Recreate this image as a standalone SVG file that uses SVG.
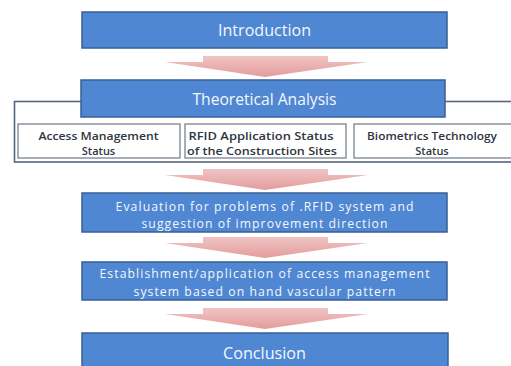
<svg xmlns="http://www.w3.org/2000/svg" width="511" height="366" viewBox="0 0 511 366">
  <defs>
    <linearGradient id="arrowFill" x1="0" y1="0" x2="0" y2="1">
      <stop offset="0" stop-color="#f0c4c4"/>
      <stop offset="1" stop-color="#e39c9c"/>
    </linearGradient>
    <!-- Block arrow pointing down, centered at x=0, top at y=0 -->
    <path id="downArrow" d="M-62,0 H63 V6 H103 L0,21 L-100,6 H-62 Z"/>
  </defs>
  <style>
    .step { fill: #4f87d3; stroke: #3a5f94; stroke-width: 1.5; }
    .stepText { font-family: "Open Sans", "Noto Sans", "Liberation Sans", sans-serif; fill: #f4f7fc; text-anchor: middle; }
    .big { font-size: 16px; }
    .mid { font-size: 12.2px; }
    .frame { fill: none; stroke: #56667c; stroke-width: 1.6; }
    .sub { fill: #ffffff; stroke: #6b7888; stroke-width: 1.2; }
    .subText { font-family: "Open Sans", "Noto Sans", "Liberation Sans", sans-serif; font-size: 11px; font-weight: 600; fill: #2f3640; text-anchor: middle; }
    .flow { fill: url(#arrowFill); }
  </style>

  <rect width="511" height="366" fill="#ffffff"/>

  <!-- Frame around the analysis sub-topics -->
  <g id="analysis-frame">
    <rect class="frame" x="14.5" y="101.5" width="510" height="60.5"/>
  </g>

  <!-- Flow arrows between steps -->
  <g id="connectors">
    <use href="#downArrow" class="flow" x="265" y="56"/>
    <use href="#downArrow" class="flow" x="265" y="169"/>
    <use href="#downArrow" class="flow" x="265" y="237"/>
    <use href="#downArrow" class="flow" x="265" y="308"/>
  </g>

  <g id="introduction">
    <rect class="step" x="82" y="12" width="365" height="36"/>
    <text class="stepText big" x="264.5" y="36" textLength="93" lengthAdjust="spacingAndGlyphs">Introduction</text>
  </g>

  <g id="theoretical-analysis">
    <rect class="step" x="81" y="80" width="364" height="37"/>
    <text class="stepText big" x="264.5" y="104.5" textLength="144" lengthAdjust="spacingAndGlyphs">Theoretical Analysis</text>
  </g>

  <g id="access-management">
    <rect class="sub" x="18" y="124" width="162" height="34"/>
    <text class="subText" x="98.5" y="139.5" textLength="120" lengthAdjust="spacingAndGlyphs">Access Management</text>
    <text class="subText" x="98.5" y="154.5">Status</text>
  </g>

  <g id="rfid-status">
    <rect class="sub" x="185" y="124" width="161" height="34"/>
    <text class="subText" x="261" y="139.5" textLength="145" lengthAdjust="spacingAndGlyphs">RFID Application Status</text>
    <text class="subText" x="262" y="154.5" textLength="150" lengthAdjust="spacingAndGlyphs">of the Construction Sites</text>
  </g>

  <g id="biometrics-status">
    <rect class="sub" x="354" y="124" width="160" height="34"/>
    <text class="subText" x="432" y="139.5" textLength="130" lengthAdjust="spacingAndGlyphs">Biometrics Technology</text>
    <text class="subText" x="432" y="154.5">Status</text>
  </g>

  <g id="evaluation">
    <rect class="step" x="82" y="193" width="365" height="39"/>
    <text class="stepText mid" x="264.5" y="211" textLength="298" lengthAdjust="spacing">Evaluation for problems of .RFID system and</text>
    <text class="stepText mid" x="264.5" y="227.5" textLength="246" lengthAdjust="spacing">suggestion of improvement direction</text>
  </g>

  <g id="establishment">
    <rect class="step" x="82" y="262" width="365" height="38"/>
    <text class="stepText mid" x="264.5" y="278" textLength="330" lengthAdjust="spacing">Establishment/application of access management</text>
    <text class="stepText mid" x="264.5" y="295.5" textLength="262" lengthAdjust="spacing">system based on hand vascular pattern</text>
  </g>

  <g id="conclusion">
    <rect class="step" x="82" y="333" width="366" height="40"/>
    <text class="stepText big" x="264.5" y="358.5" textLength="83" lengthAdjust="spacingAndGlyphs">Conclusion</text>
  </g>
</svg>
